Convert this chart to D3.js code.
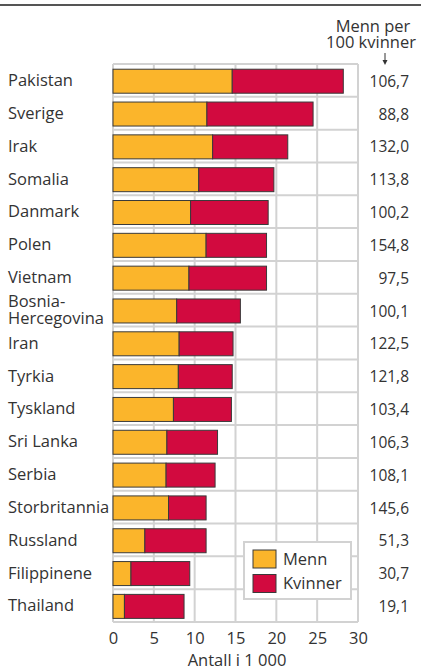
<!DOCTYPE html>
<html>
<head>
<meta charset="utf-8">
<script src="https://cdn.jsdelivr.net/npm/d3@7"></script>
<style>
  body { margin: 0; background: #fff; }
  svg text { font-family: "Open Sans", "Noto Sans", sans-serif; fill: #333; }
</style>
</head>
<body>
<div id="chart"></div>
<script>
// data (antall i 1 000)
var countries = ['Pakistan', 'Sverige', 'Irak', 'Somalia', 'Danmark', 'Polen', 'Vietnam',
  'Bosnia-Hercegovina', 'Iran', 'Tyrkia', 'Tyskland', 'Sri Lanka', 'Serbia',
  'Storbritannia', 'Russland', 'Filippinene', 'Thailand'];
var menn    = [14.6, 11.5, 12.2, 10.5, 9.5, 11.4, 9.3, 7.8, 8.1, 8.0, 7.4, 6.6, 6.5, 6.8, 3.9, 2.2, 1.4];
var kvinner = [13.6, 13.0,  9.2,  9.2, 9.5,  7.4, 9.5, 7.8, 6.6, 6.6, 7.1, 6.2, 6.0, 4.6, 7.5, 7.2, 7.3];
var ratio = ['106,7', '88,8', '132,0', '113,8', '100,2', '154,8', '97,5', '100,1', '122,5',
  '121,8', '103,4', '106,3', '108,1', '145,6', '51,3', '30,7', '19,1'];
var xTicks = [0, 5, 10, 15, 20, 25, 30];
var seriesNames = ['Menn', 'Kvinner'];
var colors = ['#fbb52b', '#d20a3f'];

var W = 421, H = 671;
var fs = 16.5;   // text
var fn = 15.5;   // numbers
var svg = d3.select('#chart').append('svg').attr('width', W).attr('height', H);

// top rule
svg.append('line').attr('x1', 0).attr('x2', W).attr('y1', 5).attr('y2', 5)
  .attr('stroke', '#555').attr('stroke-width', 2);

var x = d3.scaleLinear().domain([0, 30]).range([113, 358]);
var row = d3.scaleBand().domain(countries).range([64, 622]);

// grid - vertical
svg.append('g').selectAll('line').data(xTicks).enter().append('line')
  .attr('x1', function(d) { return x(d); }).attr('x2', function(d) { return x(d); })
  .attr('y1', 64).attr('y2', 622)
  .attr('stroke', '#d2d2d2').attr('stroke-width', 2);
// grid - horizontal (row boundaries)
var rowEdges = countries.map(function(c) { return row(c); }).concat([622]);
svg.append('g').selectAll('line').data(rowEdges).enter().append('line')
  .attr('x1', x(0)).attr('x2', x(30))
  .attr('y1', function(d) { return d; }).attr('y2', function(d) { return d; })
  .attr('stroke', '#d2d2d2').attr('stroke-width', 2);

// bars
var barH = 24;
var stacked = countries.map(function(c, i) {
  return { c: c, parts: [[0, menn[i]], [menn[i], menn[i] + kvinner[i]]] };
});
var bars = svg.append('g').selectAll('g').data(stacked).enter().append('g')
  .attr('transform', function(d) { return 'translate(0,' + (row(d.c) + (row.bandwidth() - barH) / 2 + 0.8) + ')'; });
bars.selectAll('rect').data(function(d) { return d.parts; }).enter().append('rect')
  .attr('x', function(d) { return x(d[0]); })
  .attr('width', function(d) { return x(d[1]) - x(d[0]); })
  .attr('height', barH)
  .attr('fill', function(d, i) { return colors[i]; })
  .attr('stroke', '#3a3a3a').attr('stroke-width', 1);

// country labels
var labels = svg.append('g').selectAll('text').data(countries).enter().append('text')
  .attr('x', 8)
  .attr('y', function(d) { return row(d) + row.bandwidth() / 2; })
  .style('font-size', fs + 'px');
labels.each(function(d) {
  var t = d3.select(this);
  if (d === 'Bosnia-Hercegovina') {
    t.append('tspan').attr('x', 8).attr('dy', '-0.22em').text('Bosnia-');
    t.append('tspan').attr('x', 8).attr('dy', '1.08em').text('Hercegovina');
  } else {
    t.attr('dy', '0.35em').text(d);
  }
});

// ratio column
svg.append('g').selectAll('text').data(ratio).enter().append('text')
  .attr('x', 409)
  .attr('y', function(d, i) { return row(countries[i]) + row.bandwidth() / 2 + 1; })
  .attr('dy', '0.35em')
  .attr('text-anchor', 'end')
  .style('font-size', fn + 'px')
  .text(function(d) { return d; });

// header
svg.append('text').attr('x', 373).attr('y', 32).attr('text-anchor', 'middle')
  .style('font-size', fs + 'px').text('Menn per');
svg.append('text').attr('x', 371).attr('y', 48).attr('text-anchor', 'middle')
  .style('font-size', fs + 'px').text('100 kvinner');
svg.append('line').attr('x1', 385).attr('x2', 385).attr('y1', 53).attr('y2', 63)
  .attr('stroke', '#333').attr('stroke-width', 1);
svg.append('path').attr('d', 'M382.5,60 L385,65 L387.5,60 Z').attr('fill', '#333');

// x axis
var axis = svg.append('g').attr('transform', 'translate(0,622)')
  .call(d3.axisBottom(x).tickValues(xTicks).tickSize(0).tickPadding(10));
axis.select('.domain').remove();
axis.selectAll('text').style('font-size', fs + 'px').style('font-family', '"Open Sans", sans-serif').attr('fill', '#333');
svg.append('text').attr('x', 237).attr('y', 666).attr('text-anchor', 'middle')
  .style('font-size', fs + 'px').text('Antall i 1 000');

// legend
var lg = svg.append('g').attr('transform', 'translate(244,542)');
lg.append('rect').attr('width', 107).attr('height', 57)
  .attr('fill', '#fff').attr('stroke', '#d2d2d2').attr('stroke-width', 2);
var li = lg.selectAll('g.item').data(seriesNames).enter().append('g')
  .attr('transform', function(d, i) { return 'translate(9,' + (8 + i * 24.5) + ')'; });
li.append('rect').attr('width', 23).attr('height', 18)
  .attr('fill', function(d, i) { return colors[i]; })
  .attr('stroke', '#3a3a3a').attr('stroke-width', 1);
li.append('text').attr('x', 30).attr('y', 9).attr('dy', '0.35em')
  .style('font-size', fs + 'px').text(function(d) { return d; });
</script>
</body>
</html>
